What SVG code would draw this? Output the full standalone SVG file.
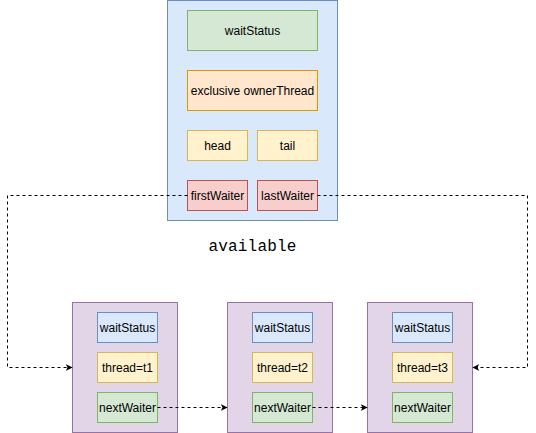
<svg xmlns="http://www.w3.org/2000/svg" width="536" height="433" viewBox="0 0 536 433">
<defs>
<style>
.t{font-family:"Liberation Sans",Arial,sans-serif;font-size:12px;fill:#000;text-anchor:middle;dominant-baseline:central}
.blue{fill:#dae8fc;stroke:#6c8ebf}
.green{fill:#d5e8d4;stroke:#82b366}
.orange{fill:#ffe6cc;stroke:#d79b00}
.yellow{fill:#fff2cc;stroke:#d6b656}
.red{fill:#f8cecc;stroke:#b85450}
.purple{fill:#e1d5e7;stroke:#9673a6}
.edge{fill:none;stroke:#000;stroke-width:1;stroke-dasharray:3 3}
</style>
<marker id="arr" viewBox="0 0 10 10" refX="9" refY="5" markerWidth="7" markerHeight="7" markerUnits="userSpaceOnUse" orient="auto">
<path d="M0,0 L10,5 L0,10 L2.5,5 Z" fill="#000"/>
</marker>
</defs>
<rect width="536" height="433" fill="#fff"/>

<g id="lock">
<rect class="blue" x="167.5" y="0.5" width="170" height="220"/>
<g id="lock-waitStatus"><rect class="green" x="187.5" y="10.5" width="130" height="40"/><text class="t" x="252.5" y="30.5">waitStatus</text></g>
<g id="lock-owner"><rect class="orange" x="187.5" y="70.5" width="130" height="40"/><text class="t" x="252.5" y="90.5">exclusive ownerThread</text></g>
<g id="lock-head"><rect class="yellow" x="187.5" y="130.5" width="60" height="30"/><text class="t" x="217.5" y="145.5">head</text></g>
<g id="lock-tail"><rect class="yellow" x="257.5" y="130.5" width="60" height="30"/><text class="t" x="287.5" y="145.5">tail</text></g>
<g id="lock-firstWaiter"><rect class="red" x="187.5" y="180.5" width="60" height="30"/><text class="t" x="217.5" y="195.5">firstWaiter</text></g>
<g id="lock-lastWaiter"><rect class="red" x="257.5" y="180.5" width="60" height="30"/><text class="t" x="287.5" y="195.5">lastWaiter</text></g>
</g>

<g id="label-available">
<text x="252.5" y="251" font-family="'Liberation Mono','Courier New',monospace" font-size="16" text-anchor="middle" fill="#000" letter-spacing="0.2">available</text>
</g>

<g id="waiter1">
<rect class="purple" x="72.5" y="302.5" width="105" height="130"/>
<rect class="blue" x="97.5" y="312.5" width="60" height="30"/><text class="t" x="127.5" y="327.5">waitStatus</text>
<rect class="yellow" x="97.5" y="352.5" width="60" height="30"/><text class="t" x="127.5" y="367.5">thread=t1</text>
<rect class="green" x="97.5" y="392.5" width="60" height="30"/><text class="t" x="127.5" y="407.5">nextWaiter</text>
</g>

<g id="waiter2">
<rect class="purple" x="227.5" y="302.5" width="105" height="130"/>
<rect class="blue" x="252.5" y="312.5" width="60" height="30"/><text class="t" x="282.5" y="327.5">waitStatus</text>
<rect class="yellow" x="252.5" y="352.5" width="60" height="30"/><text class="t" x="282.5" y="367.5">thread=t2</text>
<rect class="green" x="252.5" y="392.5" width="60" height="30"/><text class="t" x="282.5" y="407.5">nextWaiter</text>
</g>

<g id="waiter3">
<rect class="purple" x="367.5" y="302.5" width="105" height="130"/>
<rect class="blue" x="392.5" y="312.5" width="60" height="30"/><text class="t" x="422.5" y="327.5">waitStatus</text>
<rect class="yellow" x="392.5" y="352.5" width="60" height="30"/><text class="t" x="422.5" y="367.5">thread=t3</text>
<rect class="green" x="392.5" y="392.5" width="60" height="30"/><text class="t" x="422.5" y="407.5">nextWaiter</text>
</g>

<g id="connectors">
<path class="edge" d="M187.5,195.5 L7.5,195.5 L7.5,367.5 L72,367.5" marker-end="url(#arr)"/>
<path class="edge" d="M317.5,195.5 L527.5,195.5 L527.5,367.5 L473,367.5" marker-end="url(#arr)"/>
<path class="edge" d="M157.5,407.5 L227,407.5" marker-end="url(#arr)"/>
<path class="edge" d="M312.5,407.5 L367,407.5" marker-end="url(#arr)"/>
</g>
</svg>
